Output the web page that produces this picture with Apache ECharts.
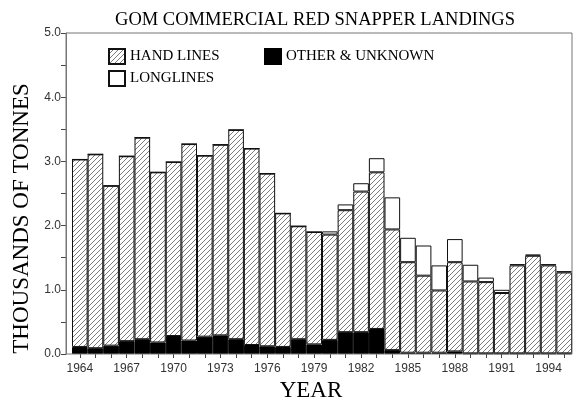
<!DOCTYPE html>
<html>
<head>
    <meta charset="utf-8">
    <title>GOM red snapper</title>
    <script src="https://cdn.jsdelivr.net/npm/echarts@6/dist/echarts.min.js"></script>
</head>
<body style="margin:0">
    <div id="main" style="width: 573px;height: 400px;"></div>
    <script type="text/javascript">
    var years = ['1964','1965','1966','1967','1968','1969','1970','1971','1972','1973','1974',
        '1975','1976','1977','1978','1979','1980','1981','1982','1983','1984','1985',
        '1986','1987','1988','1989','1990','1991','1992','1993','1994','1995'];
    var otherUnknown = [0.11,0.09,0.13,0.20,0.23,0.18,0.28,0.21,0.27,0.29,0.23,0.14,0.12,0.11,0.23,0.15,
        0.22,0.34,0.34,0.39,0.06,0.02,0.02,0.02,0.04,0.01,0.01,0.01,0.01,0.01,0.01,0.01];
    var handLines = [2.92,3.02,2.49,2.88,3.14,2.65,2.71,3.06,2.82,2.97,3.26,3.06,2.69,2.08,1.76,1.75,
        1.64,1.90,2.19,2.44,1.88,1.41,1.20,0.97,1.39,1.12,1.11,0.94,1.37,1.52,1.37,1.26];
    var longLines = [0,0,0,0,0,0,0,0,0,0,0,0,0,0,0,0,
        0.05,0.09,0.13,0.22,0.50,0.38,0.47,0.39,0.36,0.26,0.07,0.05,0.02,0.02,0.02,0.02];

    // diagonal hatch for the hand lines bars
    function hatch() {
        var c = document.createElement('canvas');
        c.width = 5; c.height = 5;
        var ctx = c.getContext('2d');
        ctx.fillStyle = '#fff';
        ctx.fillRect(0, 0, 5, 5);
        ctx.strokeStyle = '#444';
        ctx.lineWidth = 0.7;
        ctx.beginPath();
        ctx.moveTo(0, 5); ctx.lineTo(5, 0);
        ctx.moveTo(-1, 1); ctx.lineTo(1, -1);
        ctx.moveTo(4, 6); ctx.lineTo(6, 4);
        ctx.stroke();
        return c;
    }
    var hatchFill = { image: hatch(), repeat: 'repeat' };

    var serif = 'Liberation Serif';
    var legendText = { fontFamily: serif, fontSize: 15, color: '#000' };

    var myChart = echarts.init(document.getElementById('main'));
    var option = {
        animation: false,
        title: {
            text: 'GOM COMMERCIAL RED SNAPPER LANDINGS',
            left: 310, top: 6, textAlign: 'center',
            textStyle: { fontFamily: serif, fontSize: 18.5, fontWeight: 'normal', color: '#000' }
        },
        legend: [
            { data: ['HAND LINES'], left: 103, top: 43, itemWidth: 16, itemHeight: 15, icon: 'rect',
              textStyle: legendText, selectedMode: false },
            { data: ['OTHER & UNKNOWN'], left: 259, top: 43, itemWidth: 16, itemHeight: 15, icon: 'rect',
              textStyle: legendText, selectedMode: false },
            { data: ['LONGLINES'], left: 103, top: 65, itemWidth: 16, itemHeight: 15, icon: 'rect',
              textStyle: legendText, selectedMode: false }
        ],
        grid: { left: 72, right: 1, top: 33, bottom: 46, containLabel: false, outerBoundsMode: 'none' },
        graphic: [{
            type: 'rect', z: 100, silent: true,
            shape: { x: 66, y: 33, width: 506, height: 321 },
            style: { fill: 'none', stroke: '#777', lineWidth: 1 }
        }],
        xAxis: {
            type: 'category',
            data: years,
            name: 'YEAR',
            nameLocation: 'middle',
            nameGap: 19,
            nameTextStyle: { fontFamily: serif, fontSize: 23, color: '#000', padding: [0, 22, 0, 0] },
            axisLine: { show: false },
            axisTick: { show: true, interval: 0, alignWithLabel: true, length: 4, lineStyle: { color: '#444' } },
            axisLabel: { interval: 2, fontFamily: 'Liberation Sans', fontSize: 12, color: '#333', margin: 9 }
        },
        yAxis: {
            type: 'value',
            min: 0, max: 5, interval: 1,
            offset: 6,
            name: 'THOUSANDS OF TONNES',
            nameLocation: 'middle',
            nameGap: 30,
            nameTextStyle: { fontFamily: serif, fontSize: 23, color: '#000', padding: [0, 50, 0, 0] },
            axisLine: { show: true, lineStyle: { color: '#777' } },
            axisTick: { show: true, length: 5, lineStyle: { color: '#444' } },
            minorTick: { show: true, splitNumber: 2, length: 5, lineStyle: { color: '#444' } },
            splitLine: { show: false },
            axisLabel: {
                fontFamily: 'Liberation Sans', fontSize: 12, color: '#333', margin: 5,
                formatter: function (v) { return v.toFixed(1); }
            }
        },
        series: [
            {
                name: 'OTHER & UNKNOWN', type: 'bar', stack: 'all', data: otherUnknown,
                barCategoryGap: '0%',
                itemStyle: { color: '#000', borderColor: '#000', borderWidth: 1 }
            },
            {
                name: 'HAND LINES', type: 'bar', stack: 'all', data: handLines,
                barCategoryGap: '0%',
                itemStyle: { color: hatchFill, borderColor: '#111', borderWidth: 1 }
            },
            {
                name: 'LONGLINES', type: 'bar', stack: 'all', data: longLines,
                barCategoryGap: '0%',
                itemStyle: { color: '#fff', borderColor: '#111', borderWidth: 1 }
            }
        ]
    };
    myChart.setOption(option);
    </script>
</body>
</html>
